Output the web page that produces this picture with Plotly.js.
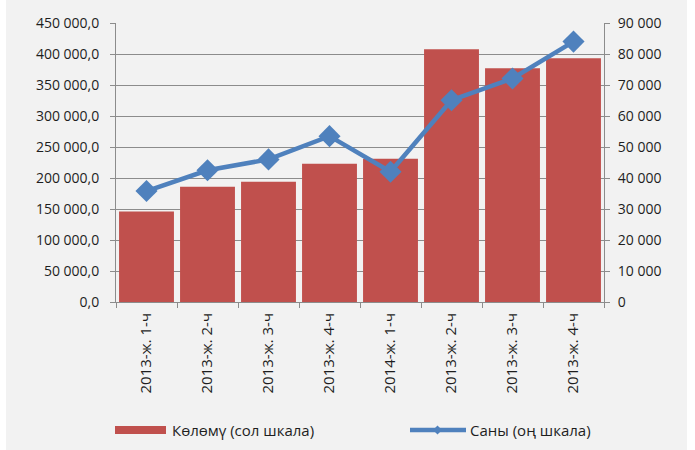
<!DOCTYPE html>
<html>
<head>
<meta charset="utf-8">
<script src="https://cdn.plot.ly/plotly-3.0.1.min.js"></script>
<style>
  html, body { margin: 0; padding: 0; background: #ffffff; }
  #bg { position: absolute; left: 6px; top: 0; width: 681px; height: 450px; background: #f2f2f2; }
  #chart { position: absolute; left: 0; top: 0; width: 695px; height: 450px; }
</style>
</head>
<body>
<div id="bg"></div>
<div id="chart"></div>
<script>
const categories = ["2013-ж. 1-ч", "2013-ж. 2-ч", "2013-ж. 3-ч", "2013-ж. 4-ч",
                    "2014-ж. 1-ч", "2013-ж. 2-ч", "2013-ж. 3-ч", "2013-ж. 4-ч"];
const volume = [146000, 186000, 194000, 223000, 231000, 407500, 377000, 393000];
const count = [35800, 42500, 46000, 53500, 42000, 65100, 72100, 84000];
const volumeName = "Көлөмү (сол шкала)";
const countName = "Саны (оң шкала)";

const positions = categories.map((_, i) => i);
const boundaries = categories.map((_, i) => i - 0.5).concat([categories.length - 0.5]);

const W = 695, H = 450;
const M = {l: 116, r: 91, t: 23, b: 148};
const pw = W - M.l - M.r, ph = H - M.t - M.b;
const px = x => (x - M.l) / pw;
const py = y => 1 - (y - M.t) / ph;

const FONT = "Open Sans, sans-serif";
const TXT = "#1e1e1e";
const RED = "#c0504d", BLUE = "#4f81bd", GRID = "#8c8c8c";

const traces = [
  {
    type: "bar", name: volumeName, x: positions, y: volume, yaxis: "y",
    marker: {color: RED}, showlegend: false, hoverinfo: "skip"
  },
  {
    type: "scatter", mode: "lines+markers", name: countName, x: positions, y: count, yaxis: "y2",
    line: {color: BLUE, width: 4.5},
    marker: {symbol: "diamond", size: 17, color: BLUE},
    showlegend: false, hoverinfo: "skip"
  }
];

const layout = {
  width: W, height: H,
  margin: M,
  paper_bgcolor: "rgba(0,0,0,0)",
  plot_bgcolor: "rgba(0,0,0,0)",
  separators: ", ",
  font: {family: FONT, size: 14, color: TXT},
  bargap: 0.1,
  showlegend: false,
  xaxis: {
    type: "linear",
    range: [-0.5, categories.length - 0.5],
    tickmode: "array", tickvals: positions, ticktext: categories,
    tickangle: -90,
    ticks: "",
    minor: {tickmode: "array", tickvals: boundaries, ticks: "outside", ticklen: 5, tickcolor: GRID, showgrid: false},
    showline: true, linecolor: GRID, linewidth: 1,
    showgrid: false, zeroline: false,
    ticklabelstandoff: 4,
    tickfont: {family: FONT, size: 15, color: TXT},
    fixedrange: true
  },
  yaxis: {
    range: [0, 450000], dtick: 50000, tick0: 0,
    tickformat: ",.1f",
    showline: true, linecolor: GRID, linewidth: 1,
    ticks: "outside", ticklen: 5, tickcolor: GRID,
    showgrid: true, gridcolor: GRID, gridwidth: 1,
    zeroline: false,
    ticklabelstandoff: 8,
    tickfont: {family: FONT, size: 14, color: TXT},
    fixedrange: true
  },
  yaxis2: {
    overlaying: "y", side: "right",
    range: [0, 90000], dtick: 10000, tick0: 0,
    tickformat: ",d",
    showline: true, linecolor: GRID, linewidth: 1,
    ticks: "outside", ticklen: 5, tickcolor: GRID,
    showgrid: false, zeroline: false,
    ticklabelstandoff: 5,
    tickfont: {family: FONT, size: 14, color: TXT},
    fixedrange: true
  },
  shapes: [
    {type: "rect", xref: "paper", yref: "paper",
     x0: px(115), x1: px(166), y0: py(434), y1: py(426),
     fillcolor: RED, line: {width: 0}},
    {type: "line", xref: "paper", yref: "paper",
     x0: px(410), x1: px(466), y0: py(430), y1: py(430),
     line: {color: BLUE, width: 4.5}},
    {type: "path", xref: "paper", yref: "paper",
     path: "M " + px(433) + " " + py(430) + " L " + px(437.5) + " " + py(425.5) +
           " L " + px(442) + " " + py(430) + " L " + px(437.5) + " " + py(434.5) + " Z",
     fillcolor: BLUE, line: {width: 0}}
  ],
  annotations: [
    {xref: "paper", yref: "paper", x: px(170), y: py(430), xanchor: "left", yanchor: "middle",
     text: volumeName, showarrow: false, font: {family: FONT, size: 15, color: TXT}},
    {xref: "paper", yref: "paper", x: px(468), y: py(430), xanchor: "left", yanchor: "middle",
     text: countName, showarrow: false, font: {family: FONT, size: 15, color: TXT}}
  ]
};

Plotly.newPlot("chart", traces, layout, {displayModeBar: false, staticPlot: true});
</script>
</body>
</html>
